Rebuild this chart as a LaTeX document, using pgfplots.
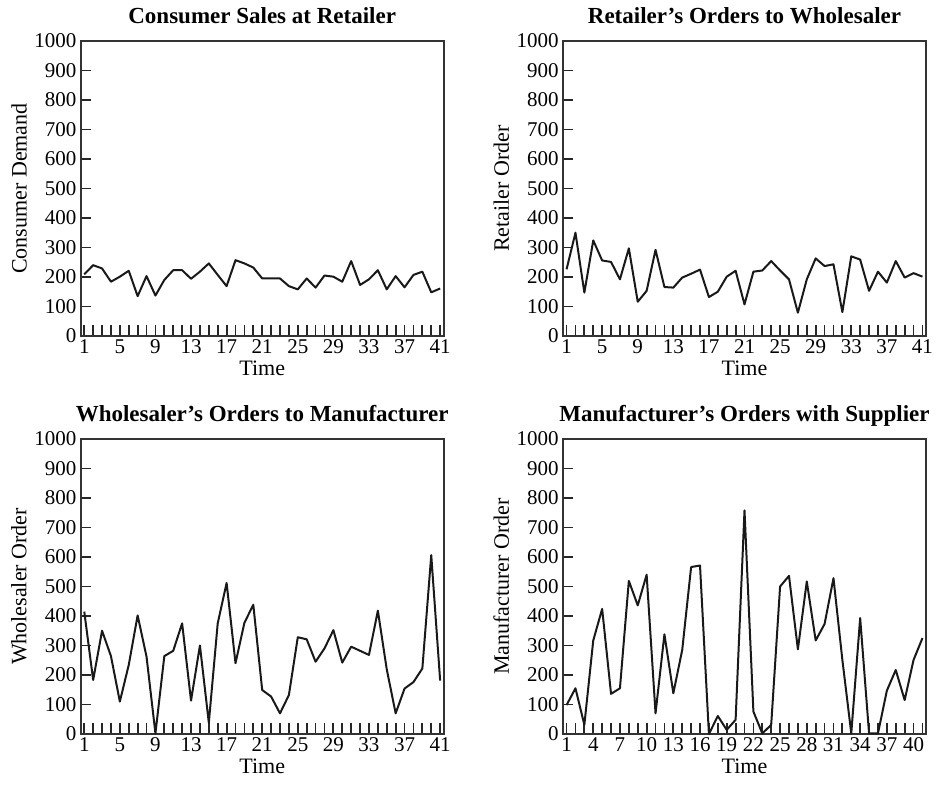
\documentclass[border=0pt]{standalone}
\usepackage{fontspec}
\setmainfont{Liberation Serif}
\usepackage{pgfplots}
\pgfplotsset{compat=1.18}
\pgfplotsset{
  bw/.style={
    width=181.5pt, height=147.5pt, scale only axis,
    xmin=0.6, xmax=41.4, ymin=0, ymax=1000,
    ytick={0,100,...,1000},
    xtick={1,5,...,41},
    minor xtick={1,...,41},
    tick align=inside, xtick pos=left, ytick pos=left,
    major tick length=5pt, minor tick length=5.5pt,
    tick style={black!85, line width=0.9pt},
    axis line style={black!80, line width=0.9pt},
    tick label style={font=\fontsize{10.5}{12}\selectfont},
    xticklabel style={inner sep=1.5pt},
    yticklabel style={inner sep=2pt},
    label style={font=\fontsize{11}{13}\selectfont},
    title style={font=\fontsize{11.5}{14}\selectfont\bfseries, at={(0.5,1)}, anchor=base, yshift=2.5pt},
    /pgf/number format/assume math mode=true,
    /pgf/number format/1000 sep={},
    xlabel={Time},
    xlabel style={at={(axis description cs:0.5,0)}, anchor=base, yshift=-20pt},
    ylabel style={at={(axis description cs:-0.17,0.5)}, anchor=center},
    clip=false,
  },
  ln/.style={black!90, line width=1pt, no markers, line join=round},
}
\begin{document}
\begin{tikzpicture}
\useasboundingbox (0,0) rectangle (474pt,392.5pt);
% Panel 1
\begin{axis}[bw, at={(40.35pt,224.5pt)}, anchor=south west,
  title={Consumer Sales at Retailer}, ylabel={Consumer Demand}]
\addplot[ln] coordinates {
(1,209) (2,240) (3,229) (4,184) (5,201) (6,221) (7,135) (8,203) (9,137) (10,190)
(11,223) (12,223) (13,194) (14,218) (15,246) (16,207) (17,169) (18,257) (19,246) (20,232)
(21,195) (22,195) (23,195) (24,169) (25,158) (26,195) (27,164) (28,205) (29,201) (30,184)
(31,254) (32,173) (33,192) (34,223) (35,158) (36,203) (37,165) (38,207) (39,218) (40,148)
(41,161)};
\end{axis}
% Panel 2
\begin{axis}[bw, at={(281.5pt,224.5pt)}, anchor=south west,
  title={Retailer's Orders to Wholesaler}, ylabel={Retailer Order}]
\addplot[ln] coordinates {
(1,226) (2,350) (3,147) (4,324) (5,256) (6,251) (7,192) (8,297) (9,116) (10,153)
(11,292) (12,166) (13,164) (14,198) (15,211) (16,225) (17,132) (18,150) (19,201) (20,221)
(21,107) (22,218) (23,222) (24,254) (25,222) (26,192) (27,79) (28,192) (29,263) (30,237)
(31,243) (32,81) (33,270) (34,259) (35,153) (36,218) (37,181) (38,254) (39,198) (40,213)
(41,201)};
\end{axis}
% Panel 3
\begin{axis}[bw, at={(40.35pt,25.5pt)}, anchor=south west,
  title={Wholesaler's Orders to Manufacturer}, ylabel={Wholesaler Order}]
\addplot[ln] coordinates {
(1,415) (2,183) (3,350) (4,264) (5,110) (6,234) (7,402) (8,262) (9,2) (10,264)
(11,282) (12,375) (13,113) (14,300) (15,38) (16,375) (17,512) (18,240) (19,377) (20,438)
(21,149) (22,127) (23,70) (24,132) (25,328) (26,321) (27,245) (28,290) (29,352) (30,242)
(31,296) (32,282) (33,268) (34,418) (35,219) (36,70) (37,154) (38,176) (39,222) (40,606)
(41,181)};
\end{axis}
% Panel 4
\begin{axis}[bw, at={(281.5pt,25.5pt)}, anchor=south west, xtick={1,4,...,40},
  title={Manufacturer's Orders with Supplier}, ylabel={Manufacturer Order}]
\addplot[ln] coordinates {
(1,98) (2,155) (3,31) (4,317) (5,424) (6,136) (7,155) (8,519) (9,436) (10,540)
(11,70) (12,338) (13,138) (14,285) (15,566) (16,571) (17,0) (18,61) (19,14) (20,48)
(21,758) (22,76) (23,2) (24,31) (25,500) (26,536) (27,287) (28,517) (29,317) (30,373)
(31,528) (32,251) (33,2) (34,393) (35,2) (36,2) (37,147) (38,217) (39,115) (40,251)
(41,325)};
\end{axis}
\end{tikzpicture}
\end{document}
